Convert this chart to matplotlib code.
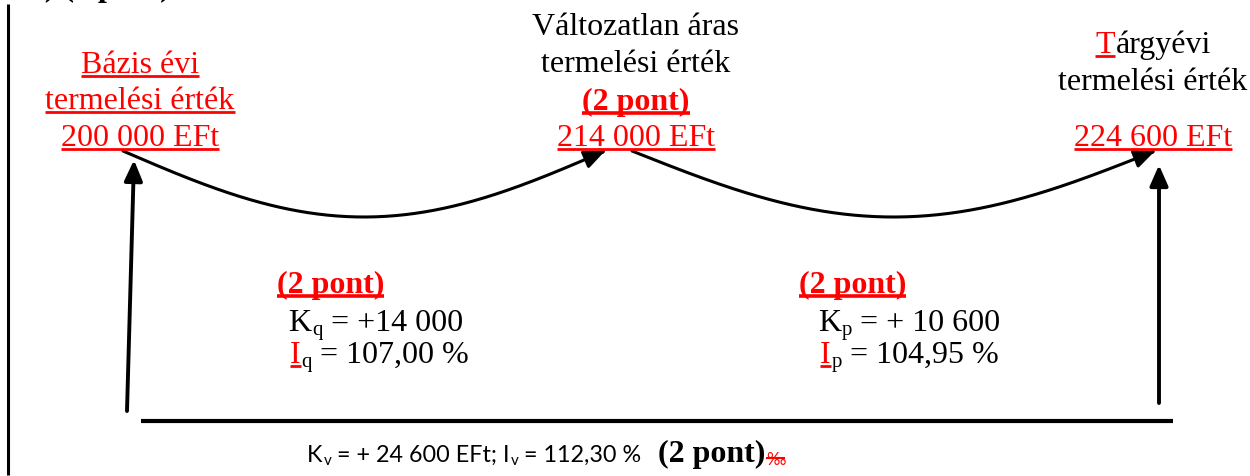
import matplotlib
matplotlib.use('Agg')
import matplotlib.pyplot as plt
import numpy as np
from matplotlib.patches import FancyArrowPatch
from matplotlib.path import Path

# ---------------- content ----------------
base_lines = ['Bázis évi', 'termelési érték', '200 000 EFt']
mid_lines = ['Változatlan áras', 'termelési érték']
points_label = '(2 pont)'
mid_value = '214 000 EFt'
target_first, target_rest = 'T', 'árgyévi'
target_line2 = 'termelési érték'
target_value = '224 600 EFt'
volume_K, volume_I = ' = +14 000', ' = 107,00 %'
price_K, price_I = ' = + 10 600', ' = 104,95 %'
total_K, total_I = ' = + 24 600 EFt; I', ' = 112,30 %'
top_label = 'b) (2 pont)'

W, H = 1250, 477
fig = plt.figure(figsize=(W / 100, H / 100), dpi=100)
ax = fig.add_axes([0, 0, 1, 1])
ax.set_xlim(0, W)
ax.set_ylim(H, 0)
ax.axis('off')
renderer = fig.canvas.get_renderer()

SERIF = 'Liberation Serif'
SANS = 'Lato'
RED = '#ff0000'
BLACK = '#000000'
FS = 23


def draw_runs(x, y, runs, ha='left'):
    objs = []
    for r in runs:
        t = ax.text(0, y + r.get('dy', 0), r['s'], fontsize=r.get('size', FS),
                    family=r.get('family', SERIF), weight=r.get('weight', 'normal'),
                    color=r.get('color', BLACK), va='baseline', ha='left')
        w = t.get_window_extent(renderer).width
        objs.append((t, w, r))
    total = sum(w + r.get('gap', 0) for _, w, r in objs)
    cur = x - total / 2 if ha == 'center' else x
    for t, w, r in objs:
        cur += r.get('gap', 0)
        t.set_x(cur)
        if r.get('underline'):
            lw = 2.6 if r.get('weight') == 'bold' else 2.0
            ax.plot([cur, cur + w], [y + 4, y + 4], color=r.get('color', BLACK),
                    lw=lw, solid_capstyle='butt')
        if r.get('strike'):
            ax.plot([cur, cur + w], [y + r['strike'], y + r['strike']],
                    color=r.get('color', BLACK), lw=1.5, solid_capstyle='butt')
        cur += w


# left border line
ax.plot([8, 8], [5, 476], color=BLACK, lw=2.2, solid_capstyle='butt')
# clipped heading at top
draw_runs(27, -4, [dict(s=top_label, weight='bold')])

# top blocks
for line, yb in zip(base_lines, [73, 109, 146]):
    draw_runs(140, yb, [dict(s=line, color=RED, underline=True)], ha='center')

for line, yb in zip(mid_lines, [35, 72]):
    draw_runs(636, yb, [dict(s=line)], ha='center')
draw_runs(636, 110, [dict(s=points_label, color=RED, weight='bold', underline=True)], ha='center')
draw_runs(636, 146, [dict(s=mid_value, color=RED, underline=True)], ha='center')

draw_runs(1153, 53, [dict(s=target_first, color=RED, underline=True),
                     dict(s=target_rest, gap=1)], ha='center')
draw_runs(1153, 90, [dict(s=target_line2)], ha='center')
draw_runs(1153, 146, [dict(s=target_value, color=RED, underline=True)], ha='center')

# middle blocks
SUB = 15
for (px, kx, Ktxt, Itxt, sub) in [(277, 288, volume_K, volume_I, 'q'),
                                   (799, 818, price_K, price_I, 'p')]:
    draw_runs(px, 293, [dict(s=points_label, color=RED, weight='bold', underline=True)])
    draw_runs(kx, 331, [dict(s='K'), dict(s=sub, size=SUB, dy=4, gap=1), dict(s=Ktxt)])
    draw_runs(kx + 2, 363, [dict(s='I', color=RED, underline=True),
                            dict(s=sub, size=SUB, dy=4, gap=1), dict(s=Itxt)])

# bottom summary line
BS = 16.8
draw_runs(307, 462, [dict(s='K', family=SANS, size=BS),
                     dict(s='v', family=SANS, size=BS * 0.65, dy=3, gap=1),
                     dict(s=total_K, family=SANS, size=BS),
                     dict(s='v', family=SANS, size=BS * 0.65, dy=3, gap=1),
                     dict(s=total_I, family=SANS, size=BS),
                     dict(s=points_label, weight='bold', gap=16),
                     dict(s='‰', family=SANS, size=12, color=RED, gap=1, dy=3, strike=-3)])

# horizontal base line
ax.plot([141, 1173], [422, 422], color=BLACK, lw=3.0, solid_capstyle='butt')

ARROW = '-|>,head_length=1.25,head_width=0.55'
# vertical arrows
for (xa, ya), (xb, yb) in [((127, 412), (134, 161)), ((1159, 404), (1159, 166))]:
    ax.add_patch(FancyArrowPatch((xa, ya), (xb, yb), arrowstyle=ARROW, mutation_scale=10,
                                 lw=2.8, color=BLACK, shrinkA=0, shrinkB=0))

# curved arrows
for x0, x1, y0, depth in [(123, 605, 152, 66), (632, 1155, 152, 66)]:
    xs = np.linspace(x0, x1, 300)
    ys = y0 + depth * np.sin(np.pi * (xs - x0) / (x1 - x0))
    ax.add_patch(FancyArrowPatch(path=Path(np.column_stack([xs, ys])), arrowstyle=ARROW,
                                 mutation_scale=10, lw=2.2, color=BLACK))

fig.savefig('out.png', dpi=100)
